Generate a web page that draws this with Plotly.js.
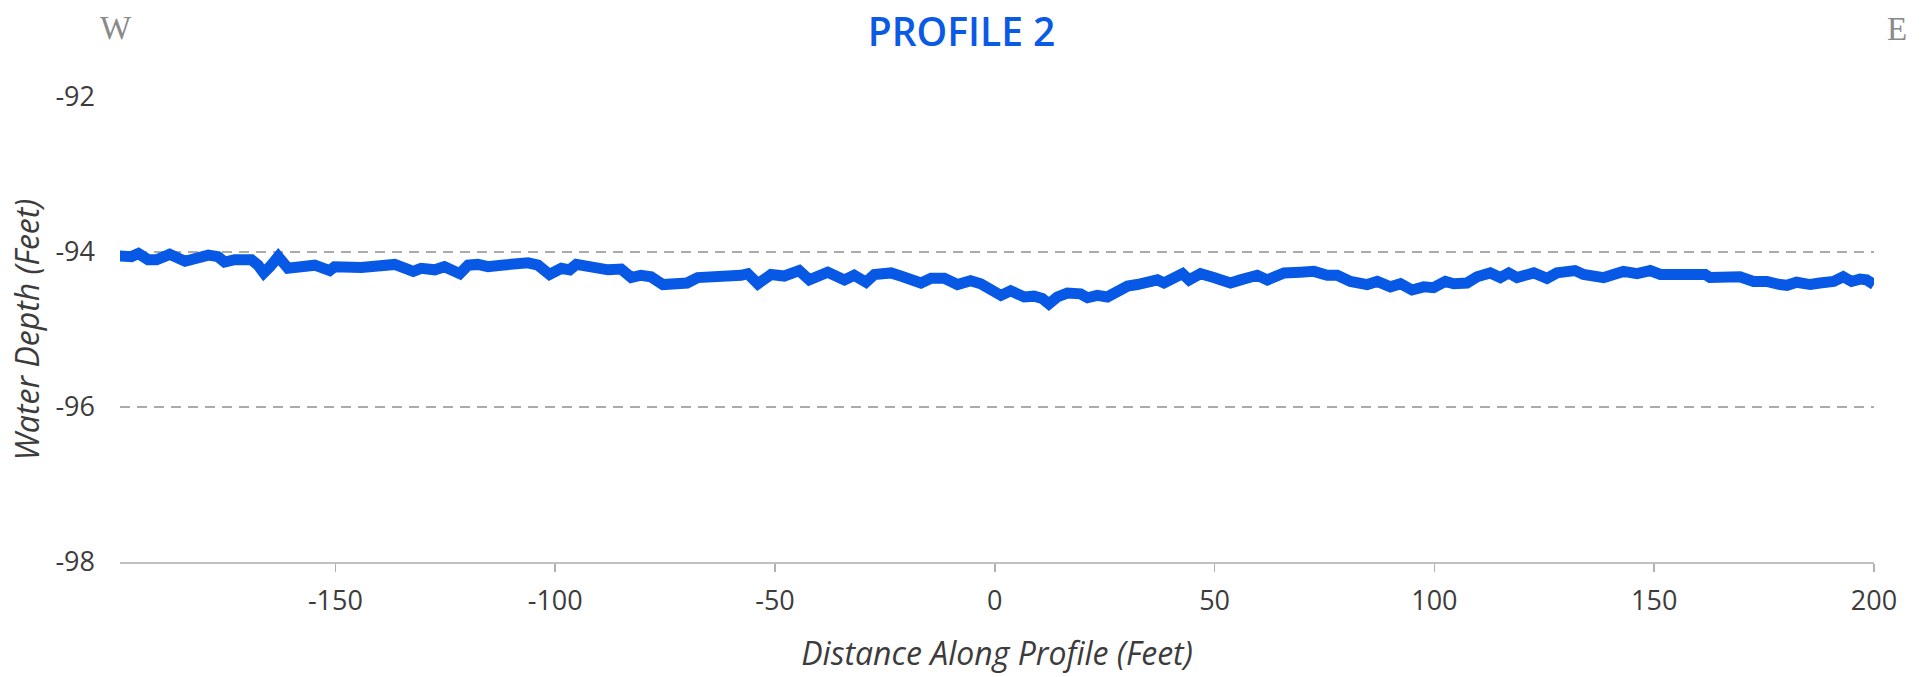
<!DOCTYPE html>
<html>
<head>
<meta charset="utf-8">
<script src="https://cdn.plot.ly/plotly-3.0.1.min.js"></script>
<style>html,body{margin:0;padding:0;background:#fff;}#chart{width:1923px;height:677px;}</style>
</head>
<body>
<div id="chart"></div>
<script>
// Distance along profile (feet)
const distance = [-199.4,-196.4,-194.8,-192.6,-190.7,-187.7,-184.2,-181.2,-178.9,-176.7,-175.2,-172.9,-169.1,-167.6,-166.3,-164.9,-163.0,-160.8,-157.7,-154.7,-151.3,-150.2,-144.1,-138.8,-136.5,-132.3,-130.5,-127.4,-125.2,-121.7,-119.8,-117.6,-115.3,-112.3,-108.5,-106.2,-103.9,-101.3,-98.6,-96.7,-95.2,-91.8,-88.0,-85.0,-82.7,-80.5,-78.2,-75.5,-72.9,-70.0,-67.6,-62.3,-57.7,-56.2,-53.9,-50.9,-47.9,-44.5,-42.2,-38.0,-34.2,-32.0,-29.3,-27.4,-23.6,-21.4,-16.8,-14.5,-11.5,-8.5,-5.5,-3.2,-0.9,1.4,3.6,6.7,8.9,10.8,12.3,14.2,16.5,19.5,21.1,23.3,25.6,27.9,30.2,32.4,34.7,37.0,38.5,40.8,42.7,44.2,46.8,49.8,53.6,55.9,59.7,62.0,65.8,69.5,72.6,75.6,77.9,80.9,84.7,87.0,90.0,92.3,94.9,97.6,99.8,102.5,104.4,107.4,109.7,112.7,115.0,116.9,118.8,122.6,125.6,127.9,130.2,132.0,133.9,138.5,143.0,146.1,149.1,151.4,157.4,161.6,162.7,166.5,169.5,172.6,175.6,178.6,180.2,182.4,185.5,187.7,190.8,193.0,194.9,196.8,198.3,200.0];
// Water depth (feet)
const depth = [-94.05,-94.06,-94.02,-94.10,-94.10,-94.03,-94.12,-94.09,-94.04,-94.06,-94.13,-94.10,-94.10,-94.17,-94.27,-94.19,-94.06,-94.21,-94.18,-94.17,-94.24,-94.19,-94.20,-94.17,-94.16,-94.25,-94.21,-94.23,-94.19,-94.28,-94.17,-94.16,-94.19,-94.17,-94.16,-94.14,-94.17,-94.29,-94.21,-94.23,-94.16,-94.21,-94.23,-94.22,-94.33,-94.30,-94.32,-94.42,-94.40,-94.40,-94.33,-94.33,-94.30,-94.28,-94.41,-94.29,-94.31,-94.24,-94.36,-94.26,-94.36,-94.30,-94.39,-94.29,-94.27,-94.31,-94.40,-94.34,-94.34,-94.42,-94.37,-94.41,-94.48,-94.56,-94.50,-94.58,-94.57,-94.60,-94.67,-94.58,-94.53,-94.54,-94.59,-94.56,-94.58,-94.51,-94.44,-94.42,-94.38,-94.36,-94.40,-94.34,-94.28,-94.36,-94.28,-94.33,-94.40,-94.36,-94.30,-94.36,-94.27,-94.26,-94.25,-94.30,-94.30,-94.38,-94.42,-94.38,-94.45,-94.41,-94.49,-94.45,-94.46,-94.38,-94.41,-94.40,-94.32,-94.27,-94.33,-94.27,-94.33,-94.27,-94.34,-94.27,-94.27,-94.24,-94.29,-94.33,-94.25,-94.28,-94.24,-94.29,-94.29,-94.29,-94.33,-94.34,-94.32,-94.38,-94.38,-94.42,-94.43,-94.39,-94.42,-94.40,-94.38,-94.32,-94.38,-94.35,-94.36,-94.42];
const xTicks = [-150,-100,-50,0,50,100,150,200];
const yTicks = [-98,-96,-94,-92];

const textColor = '#3c3c3c';
const lineBlue = '#0858e6';

const trace = {
  x: distance,
  y: depth,
  type: 'scatter',
  mode: 'lines',
  line: {color: lineBlue, width: 11, shape: 'linear'},
  hoverinfo: 'x+y'
};

const layout = {
  width: 1923,
  height: 677,
  margin: {l: 120, r: 49, t: 97, b: 115, pad: 0},
  paper_bgcolor: '#ffffff',
  plot_bgcolor: '#ffffff',
  showlegend: false,
  font: {family: '"Open Sans", "Noto Sans", sans-serif', color: textColor, size: 27},
  title: {
    text: 'PROFILE 2',
    font: {family: '"Open Sans", sans-serif', size: 39, color: '#0a5ae6', weight: 600},
    x: 0.5, xref: 'container', xanchor: 'center',
    y: 1 - 32/677, yref: 'container', yanchor: 'middle'
  },
  xaxis: {
    range: [-199, 200],
    tickvals: xTicks,
    ticktext: xTicks.map(String),
    showgrid: false,
    zeroline: false,
    showline: true,
    linecolor: '#c0c0c0',
    linewidth: 2,
    ticks: 'outside',
    ticklen: 8,
    tickwidth: 1.5,
    tickcolor: '#b0b0b0',
    ticklabelstandoff: 6,
    tickfont: {size: 27, color: textColor},
    title: {
      text: 'Distance Along Profile (Feet)',
      font: {size: 32, color: textColor, style: 'italic'},
      standoff: 25
    },
    fixedrange: true
  },
  yaxis: {
    range: [-98, -92],
    tickvals: yTicks,
    ticktext: yTicks.map(String),
    showgrid: true,
    gridcolor: '#ababab',
    gridwidth: 1.5,
    griddash: '10px,7px',
    zeroline: false,
    showline: false,
    ticks: '',
    ticklabelstandoff: 24,
    tickfont: {size: 27, color: textColor},
    title: {
      text: 'Water Depth (Feet)',
      font: {size: 32, color: textColor, style: 'italic'},
      standoff: 6
    },
    fixedrange: true
  },
  annotations: [
    {
      text: 'W', xref: 'paper', yref: 'paper',
      x: (116 - 120) / 1754, y: (562 - 28) / 465,
      xanchor: 'center', yanchor: 'middle', showarrow: false,
      font: {family: '"Liberation Serif", "DejaVu Serif", serif', size: 33, color: '#8a8a8a'}
    },
    {
      text: 'E', xref: 'paper', yref: 'paper',
      x: (1897 - 120) / 1754, y: (562 - 29) / 465,
      xanchor: 'center', yanchor: 'middle', showarrow: false,
      font: {family: '"Liberation Serif", "DejaVu Serif", serif', size: 33, color: '#8a8a8a'}
    }
  ]
};

Plotly.newPlot('chart', [trace], layout, {displayModeBar: false, staticPlot: true});
</script>
</body>
</html>
